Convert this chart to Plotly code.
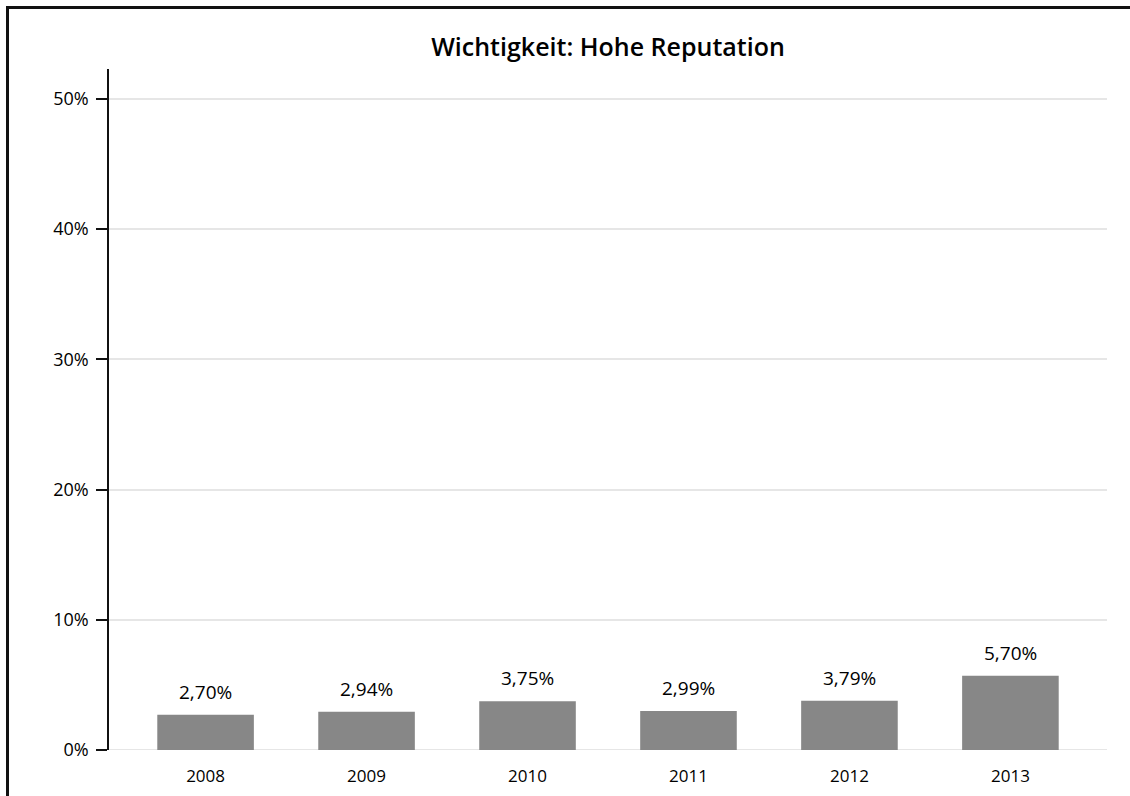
import plotly.graph_objects as go

years = ["2008", "2009", "2010", "2011", "2012", "2013"]
shares = [2.70, 2.94, 3.75, 2.99, 3.79, 5.70]
y_ticks = [0, 10, 20, 30, 40, 50]

W, H = 1130, 796
L, R, T, B = 109, 23, 69, 46
pw, ph = W - L - R, H - T - B

def px_x(x):
    return (x - L) / pw

def px_y(y):
    return (H - B - y) / ph

fig = go.Figure(
    go.Bar(
        x=years,
        y=shares,
        width=0.6,
        marker=dict(color="#878787", line=dict(width=0)),
        hoverinfo="skip",
    )
)

# value labels above each bar (x given as category index)
for i, v in enumerate(shares):
    fig.add_annotation(
        x=i, y=v, xref="x", yref="y",
        text=f"{v:.2f}%".replace(".", ","),
        showarrow=False, yanchor="bottom", yshift=8,
        font=dict(size=19, color="#000000"),
    )

fig.update_layout(
    width=W,
    height=H,
    margin=dict(l=L, r=R, t=T, b=B, autoexpand=False),
    paper_bgcolor="white",
    plot_bgcolor="white",
    font=dict(family="Open Sans", color="#000000"),
    showlegend=False,
    title=dict(
        text="Wichtigkeit: Hohe Reputation",
        x=0.5,
        xref="paper",
        y=1 - 47 / H,
        yanchor="middle",
        font=dict(size=25, color="#000000", weight=600),
    ),
    xaxis=dict(
        type="category",
        range=[-0.6, 5.6],
        showgrid=False,
        showline=False,
        zeroline=False,
        ticks="",
        automargin=False,
        ticklabelstandoff=14,
        tickfont=dict(size=17),
    ),
    yaxis=dict(
        range=[0, 52.3],
        tickmode="array",
        tickvals=y_ticks,
        ticktext=[f"{t}%" for t in y_ticks],
        showgrid=True,
        gridcolor="#e6e6e6",
        gridwidth=2,
        zeroline=False,
        showline=True,
        linecolor="#111111",
        linewidth=1.5,
        ticks="outside",
        ticklen=11,
        tickcolor="#111111",
        tickwidth=1.5,
        automargin=False,
        ticklabelstandoff=4,
        tickfont=dict(size=18),
    ),
    shapes=[
        # baseline at 0%
        dict(type="line", xref="paper", yref="y", x0=0, x1=1, y0=0, y1=0,
             line=dict(color="#e6e6e6", width=2), layer="below"),
        # outer frame (left and top edges)
        dict(type="path", xref="paper", yref="paper",
             path=f"M {px_x(7.5)},{px_y(800)} L {px_x(7.5)},{px_y(7.5)} L {px_x(1135)},{px_y(7.5)}",
             line=dict(color="#111111", width=3)),
    ],
)

fig.write_html("out.html")
